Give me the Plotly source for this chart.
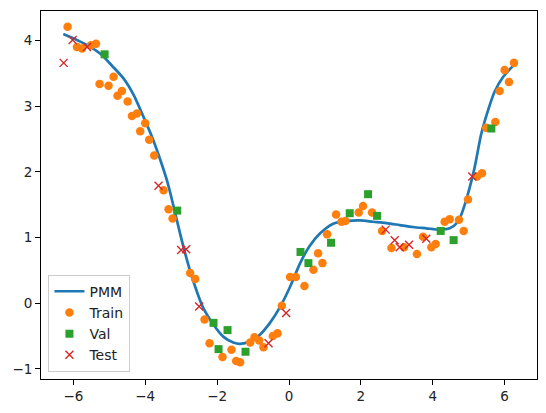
import plotly.graph_objects as go

# PMM fitted curve
curve_x = [-6.28, -5.99, -5.62, -5.25, -4.93, -4.60, -4.32, -4.05, -3.81, -3.58,
           -3.38, -3.21, -3.03, -2.84, -2.61, -2.38, -2.10, -1.83, -1.55, -1.36,
           -1.08, -0.81, -0.53, -0.25, 0.03, 0.31, 0.56, 0.86, 1.23, 1.60,
           1.97, 2.34, 2.71, 3.08, 3.45, 3.82, 4.19, 4.47, 4.70, 4.89,
           5.07, 5.17, 5.35, 5.54, 5.72, 5.95, 6.28]
curve_y = [4.10, 4.03, 3.93, 3.80, 3.62, 3.42, 3.17, 2.84, 2.53, 2.18,
           1.84, 1.47, 1.06, 0.66, 0.25, -0.08, -0.33, -0.51, -0.60, -0.62,
           -0.58, -0.48, -0.30, -0.06, 0.25, 0.61, 0.86, 1.06, 1.21, 1.25,
           1.26, 1.24, 1.22, 1.19, 1.16, 1.14, 1.12, 1.14, 1.24, 1.50,
           1.85, 2.08, 2.58, 2.94, 3.22, 3.44, 3.64]

train_x = [-6.16, -5.90, -5.76, -5.51, -5.37, -5.27, -5.02, -4.88, -4.77, -4.65,
           -4.49, -4.37, -4.23, -4.14, -4.00, -3.89, -3.75, -3.49, -3.35, -3.24,
           -2.75, -2.61, -2.35, -2.21, -1.85, -1.60, -1.47, -1.36, -1.08, -0.96,
           -0.83, -0.71, -0.45, -0.32, -0.20, 0.03, 0.19, 0.43, 0.68, 0.81,
           0.93, 1.06, 1.31, 1.46, 1.57, 1.94, 2.06, 2.31, 2.59, 2.85,
           3.20, 3.56, 3.73, 3.96, 4.08, 4.33, 4.47, 4.73, 4.86, 4.98,
           5.23, 5.37, 5.49, 5.74, 5.86, 6.00, 6.12, 6.26]
train_y = [4.21, 3.90, 3.88, 3.93, 3.95, 3.34, 3.31, 3.45, 3.16, 3.23,
           3.07, 2.85, 2.89, 2.62, 2.74, 2.49, 2.25, 1.72, 1.43, 1.29,
           0.46, 0.37, -0.25, -0.61, -0.82, -0.71, -0.88, -0.90, -0.60, -0.52,
           -0.57, -0.67, -0.50, -0.46, -0.04, 0.40, 0.40, 0.26, 0.51, 0.76,
           0.61, 1.05, 1.35, 1.24, 1.25, 1.38, 1.48, 1.38, 1.10, 0.84,
           0.85, 0.75, 1.01, 0.85, 0.90, 1.24, 1.28, 1.27, 1.10, 1.58,
           1.93, 1.98, 2.67, 2.76, 3.23, 3.55, 3.37, 3.66]

val_x = [-5.13, -3.11, -2.10, -1.71, -1.96, -1.21, 0.32, 0.54, 1.17, 1.69,
         2.20, 2.45, 4.22, 4.58, 5.63]
val_y = [3.79, 1.41, -0.30, -0.41, -0.70, -0.74, 0.78, 0.61, 0.92, 1.37,
         1.66, 1.33, 1.10, 0.96, 2.66]

test_x = [-6.27, -6.02, -5.62, -3.63, -3.00, -2.86, -2.50, -0.57, -0.08, 2.69,
          2.94, 3.08, 3.34, 3.82, 5.10]
test_y = [3.66, 4.01, 3.90, 1.79, 0.81, 0.82, -0.05, -0.61, -0.15, 1.12,
          0.96, 0.85, 0.89, 0.98, 1.93]

fig = go.Figure()

fig.add_trace(go.Scatter(name='PMM', x=curve_x, y=curve_y, mode='lines',
                         line=dict(color='#1f77b4', width=2.7, shape='spline', smoothing=0.8)))
fig.add_trace(go.Scatter(name='Train', x=train_x, y=train_y, mode='markers',
                         marker=dict(color='#ff7f0e', size=8.5, symbol='circle')))
fig.add_trace(go.Scatter(name='Val', x=val_x, y=val_y, mode='markers',
                         marker=dict(color='#2ca02c', size=8, symbol='square')))
fig.add_trace(go.Scatter(name='Test', x=test_x, y=test_y, mode='markers',
                         marker=dict(color='#d62728', size=8, symbol='x-thin',
                                     line=dict(color='#d62728', width=1.4))))

axis_style = dict(showline=True, linecolor='black', linewidth=1, mirror=True,
                  ticks='outside', ticklen=5, tickcolor='black', showgrid=False,
                  zeroline=False, tickfont=dict(family='DejaVu Sans', size=13.5, color='#222'))

fig.update_xaxes(range=[-6.9, 6.9], dtick=2, **axis_style)
fig.update_yaxes(range=[-1.155, 4.45], dtick=1, **axis_style)

# the page body adds an 8px offset, margins compensate for it
fig.update_layout(
    width=546, height=413,
    margin=dict(l=33, r=17, t=3, b=42),
    plot_bgcolor='white', paper_bgcolor='white',
    font=dict(family='DejaVu Sans', size=13.5, color='#222'),
    legend=dict(x=0.015, y=0.02, xanchor='left', yanchor='bottom',
                bordercolor='#cccccc', borderwidth=1,
                bgcolor='rgba(255,255,255,0.8)', font=dict(size=14),
                tracegroupgap=0),
)

fig.write_html('out.html')
